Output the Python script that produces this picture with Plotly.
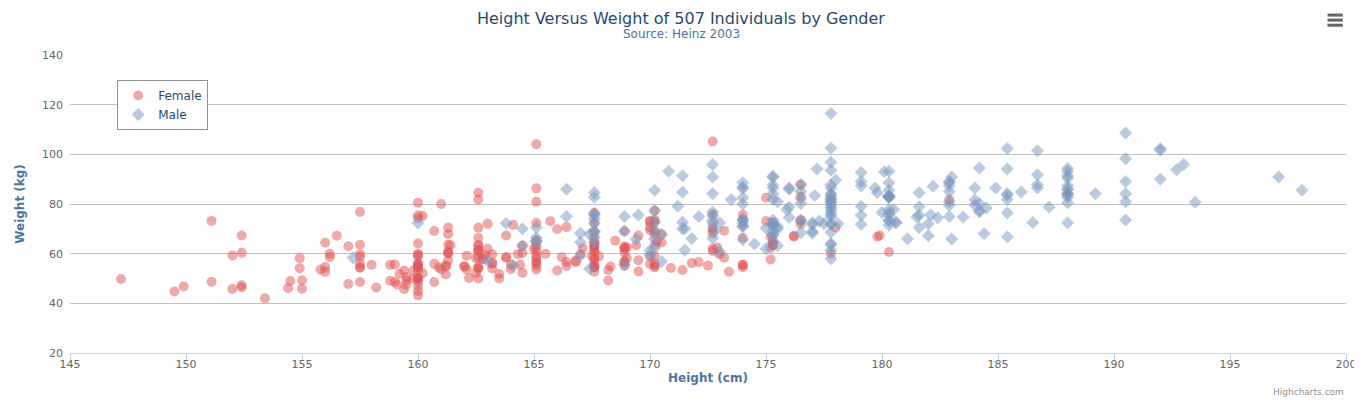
import plotly.graph_objects as go

# Height (cm), weight (kg) — Heinz 2003 body dimensions
female = [
    [161.2, 51.6], [167.5, 59.0], [159.5, 49.2], [157.0, 63.0], [155.8, 53.6],
    [170.0, 59.0], [159.1, 47.6], [166.0, 69.8], [176.2, 66.8], [160.2, 75.2],
    [172.5, 55.2], [170.9, 54.2], [172.9, 62.5], [153.4, 42.0], [160.0, 50.0],
    [147.2, 49.8], [168.2, 49.2], [175.0, 73.2], [157.0, 47.8], [167.6, 68.8],
    [159.5, 50.6], [175.0, 82.5], [166.8, 57.2], [176.5, 87.8], [170.2, 72.8],
    [174.0, 54.5], [173.0, 59.8], [179.9, 67.3], [170.5, 67.8], [160.0, 47.0],
    [154.4, 46.2], [162.0, 55.0], [176.5, 83.0], [160.0, 54.4], [152.0, 45.8],
    [162.1, 53.6], [170.0, 73.2], [160.2, 52.1], [161.3, 67.9], [166.4, 56.6],
    [168.9, 62.3], [163.8, 58.5], [167.6, 54.5], [160.0, 50.2], [161.3, 60.3],
    [167.6, 58.3], [165.1, 56.2], [160.0, 50.2], [170.0, 72.9], [157.5, 59.8],
    [167.6, 61.0], [160.7, 69.1], [163.2, 55.9], [152.4, 46.5], [157.5, 54.3],
    [168.3, 54.8], [180.3, 60.7], [165.5, 60.0], [165.0, 62.0], [164.5, 60.3],
    [156.0, 52.7], [160.0, 74.3], [163.0, 62.0], [165.7, 73.1], [161.0, 80.0],
    [162.0, 54.7], [166.0, 53.2], [174.0, 75.7], [172.7, 61.1], [167.6, 55.7],
    [151.1, 48.7], [164.5, 52.3], [163.5, 50.0], [152.0, 59.3], [169.0, 62.5],
    [164.0, 55.7], [161.2, 54.8], [155.0, 45.9], [170.0, 70.6], [176.2, 67.2],
    [170.0, 69.4], [162.5, 58.2], [170.3, 64.8], [164.1, 71.6], [169.5, 52.8],
    [163.2, 59.8], [154.5, 49.0], [159.8, 50.0], [173.2, 69.2], [170.0, 55.9],
    [161.4, 63.4], [169.0, 58.2], [166.2, 58.6], [159.4, 45.7], [162.5, 52.2],
    [159.0, 48.6], [162.8, 57.8], [159.0, 55.6], [179.8, 66.8], [162.9, 59.4],
    [161.0, 53.6], [151.1, 73.2], [168.2, 53.4], [168.9, 69.0], [173.2, 58.4],
    [171.8, 56.2], [178.0, 70.6], [164.3, 59.8], [163.0, 72.0], [168.5, 65.2],
    [166.8, 56.6], [172.7, 105.2], [163.5, 51.8], [169.4, 63.4], [167.8, 59.0],
    [159.5, 47.6], [167.6, 63.0], [161.2, 55.2], [160.0, 45.0], [163.2, 54.0],
    [162.2, 50.2], [161.3, 60.2], [149.5, 44.8], [157.5, 58.8], [163.2, 56.4],
    [172.7, 62.0], [155.0, 49.2], [156.5, 67.2], [164.0, 53.8], [160.9, 54.4],
    [162.8, 58.0], [167.0, 59.8], [160.0, 54.8], [160.0, 43.2], [168.9, 60.5],
    [158.2, 46.4], [156.0, 64.4], [160.0, 48.8], [167.1, 62.2], [158.0, 55.5],
    [167.6, 57.8], [156.0, 54.6], [162.1, 59.2], [173.4, 52.7], [159.8, 53.2],
    [170.5, 64.5], [159.2, 51.8], [157.5, 56.0], [161.3, 63.6], [162.6, 63.2],
    [160.0, 59.5], [168.9, 56.8], [165.1, 64.1], [162.6, 50.0], [165.1, 72.3],
    [166.4, 55.0], [160.0, 55.9], [152.4, 60.4], [170.2, 69.1], [162.6, 84.5],
    [170.2, 55.9], [158.8, 55.5], [172.7, 69.5], [167.6, 76.4], [162.6, 61.4],
    [167.6, 65.9], [156.2, 58.6], [175.2, 66.8], [172.1, 56.6], [162.6, 58.6],
    [160.0, 55.9], [165.1, 59.1], [182.9, 81.8], [166.4, 70.7], [165.1, 56.8],
    [177.8, 60.0], [165.1, 58.2], [175.3, 72.7], [154.9, 54.1], [158.8, 49.1],
    [172.7, 75.9], [168.9, 55.0], [161.3, 57.3], [167.6, 55.0], [165.1, 65.5],
    [175.3, 65.5], [157.5, 48.6], [163.8, 58.6], [167.6, 63.6], [165.1, 55.2],
    [165.1, 62.7], [168.9, 56.6], [162.6, 53.9], [164.5, 63.2], [176.5, 73.6],
    [168.9, 62.0], [175.3, 63.6], [159.4, 53.2], [160.0, 53.4], [170.2, 55.0],
    [162.6, 70.5], [167.6, 54.5], [162.6, 54.5], [160.7, 55.9], [160.0, 59.0],
    [157.5, 63.6], [162.6, 54.5], [152.4, 47.3], [170.2, 67.7], [165.1, 80.9],
    [172.7, 70.5], [165.1, 60.9], [170.2, 63.6], [170.2, 54.5], [170.2, 59.1],
    [161.3, 70.5], [167.6, 52.7], [167.6, 62.7], [165.1, 86.3], [162.6, 66.4],
    [152.4, 67.3], [168.9, 63.0], [170.2, 73.6], [175.2, 62.3], [175.2, 57.7],
    [160.0, 55.4], [165.1, 104.1], [174.0, 55.5], [170.2, 77.3], [160.0, 80.5],
    [167.6, 64.5], [167.6, 72.3], [167.6, 61.4], [154.9, 58.2], [162.6, 81.8],
    [175.3, 63.6], [171.4, 53.4], [157.5, 54.5], [165.1, 53.6], [160.0, 60.0],
    [174.0, 73.6], [162.6, 61.4], [174.0, 55.5], [162.6, 63.6], [161.3, 60.9],
    [156.2, 60.0], [149.9, 46.8], [169.5, 57.3], [160.0, 64.1], [175.3, 63.6],
    [169.5, 67.3], [160.0, 75.5], [172.7, 68.2], [162.6, 61.4], [157.5, 76.8],
    [176.5, 71.8], [164.4, 55.5], [160.7, 48.6], [174.0, 66.4], [163.8, 67.3],
]

male = [
    [174.0, 65.6], [175.3, 71.8], [193.5, 80.7], [186.5, 72.6], [187.2, 78.8],
    [181.5, 74.8], [184.0, 86.4], [184.5, 78.4], [175.0, 62.0], [184.0, 81.6],
    [180.0, 76.6], [177.8, 83.6], [192.0, 90.0], [176.0, 74.6], [174.0, 71.0],
    [184.0, 79.6], [192.7, 93.8], [171.5, 70.0], [173.0, 72.4], [176.0, 85.9],
    [176.0, 78.8], [180.5, 77.8], [172.7, 66.2], [176.0, 86.4], [173.5, 81.8],
    [178.0, 89.6], [180.3, 82.8], [180.3, 76.4], [164.5, 63.2], [173.0, 60.9],
    [183.5, 74.8], [175.5, 70.0], [188.0, 72.4], [189.2, 84.1], [172.8, 69.1],
    [170.0, 59.5], [182.0, 67.2], [170.0, 61.3], [177.8, 68.6], [184.2, 80.1],
    [186.7, 87.8], [171.4, 84.7], [172.7, 73.4], [175.3, 72.1], [180.3, 82.6],
    [182.9, 88.7], [188.0, 84.1], [177.2, 94.1], [172.1, 74.9], [167.0, 59.1],
    [169.5, 75.6], [174.0, 86.2], [172.7, 75.3], [182.2, 87.1], [164.1, 55.2],
    [163.0, 57.0], [171.5, 61.4], [184.2, 76.8], [174.0, 86.8], [174.0, 72.2],
    [177.0, 71.6], [186.0, 84.8], [167.0, 68.2], [171.8, 66.1], [182.0, 72.0],
    [167.0, 64.6], [177.8, 74.8], [164.5, 70.0], [192.0, 101.6], [175.5, 63.2],
    [171.2, 79.1], [181.6, 78.9], [167.4, 67.7], [181.1, 66.0], [177.0, 68.2],
    [174.5, 63.9], [177.5, 72.0], [170.5, 56.8], [182.4, 74.5], [197.1, 90.9],
    [180.1, 93.0], [175.5, 80.9], [180.6, 72.7], [184.4, 68.0], [175.5, 70.9],
    [180.6, 72.5], [177.0, 72.5], [177.1, 83.4], [181.6, 75.5], [176.5, 73.0],
    [175.0, 70.2], [174.0, 73.4], [165.1, 70.5], [177.0, 68.9], [192.0, 102.3],
    [176.5, 68.4], [169.4, 65.9], [182.1, 75.7], [179.8, 84.5], [175.3, 87.7],
    [184.9, 86.4], [177.3, 73.2], [167.4, 53.9], [178.1, 72.0], [168.9, 55.5],
    [157.2, 58.4], [180.3, 83.2], [170.2, 72.7], [177.8, 64.1], [172.7, 72.3],
    [165.1, 65.0], [186.7, 86.4], [165.1, 65.0], [174.0, 88.6], [175.3, 84.1],
    [185.4, 66.8], [177.8, 75.5], [180.3, 93.2], [180.3, 82.7], [177.8, 58.0],
    [177.8, 79.5], [177.8, 78.6], [177.8, 71.8], [177.8, 116.4], [163.8, 72.2],
    [188.0, 83.6], [198.1, 85.5], [175.3, 90.9], [166.4, 85.9], [190.5, 89.1],
    [166.4, 75.0], [177.8, 77.7], [179.7, 86.4], [172.7, 90.9], [190.5, 73.6],
    [185.4, 76.4], [168.9, 69.1], [167.6, 84.5], [175.3, 64.5], [170.2, 69.1],
    [190.5, 108.6], [177.8, 86.4], [190.5, 80.9], [177.8, 87.7], [184.2, 94.5],
    [176.5, 80.2], [177.8, 72.0], [180.3, 71.4], [171.4, 72.7], [172.7, 84.1],
    [172.7, 76.8], [177.8, 63.6], [177.8, 80.9], [182.9, 80.9], [170.2, 85.5],
    [167.6, 68.6], [175.3, 67.7], [165.1, 66.4], [185.4, 102.3], [181.6, 70.5],
    [172.7, 95.9], [190.5, 84.1], [179.1, 87.3], [175.3, 71.8], [170.2, 65.9],
    [193.0, 95.9], [171.4, 91.4], [177.8, 81.8], [177.8, 96.8], [167.6, 69.1],
    [167.6, 82.7], [180.3, 75.5], [182.9, 79.5], [176.5, 73.6], [186.7, 91.8],
    [188.0, 84.1], [188.0, 85.9], [177.8, 81.8], [174.0, 82.5], [177.8, 80.5],
    [171.4, 70.0], [185.4, 81.8], [185.4, 84.1], [188.0, 90.5], [188.0, 91.4],
    [182.9, 89.1], [176.5, 85.0], [175.3, 69.1], [175.3, 73.6], [188.0, 80.5],
    [188.0, 82.7], [175.3, 86.4], [170.5, 67.7], [179.1, 92.7], [177.8, 93.6],
    [175.3, 70.9], [182.9, 75.0], [170.8, 93.2], [188.0, 93.2], [180.3, 77.7],
    [177.8, 61.4], [185.4, 94.1], [168.9, 75.0], [185.4, 83.6], [180.3, 85.5],
    [174.0, 73.9], [167.6, 66.8], [182.9, 87.3], [160.0, 72.3], [180.3, 88.6],
    [167.6, 75.5], [186.7, 101.4], [175.3, 91.1], [175.3, 67.3], [175.9, 77.7],
    [175.3, 81.8], [179.1, 75.5], [181.6, 84.5], [177.8, 76.6], [182.9, 85.0],
    [177.8, 102.5], [184.2, 77.3], [179.1, 71.8], [176.5, 87.9], [188.0, 94.3],
    [174.0, 70.9], [167.6, 64.5], [170.2, 77.3], [167.6, 72.3], [188.0, 87.3],
    [174.0, 80.0], [176.5, 82.3], [180.3, 73.6], [167.6, 74.1], [188.0, 85.9],
    [180.3, 73.2], [167.6, 76.3], [183.0, 65.9], [183.0, 90.9], [179.1, 89.1],
    [170.2, 62.3], [177.8, 82.7], [179.1, 79.1], [190.5, 98.2], [177.8, 84.1],
    [180.3, 83.2], [180.3, 83.2],
]

font = 'Verdana, DejaVu Sans, sans-serif'

fig = go.Figure()
fig.add_trace(go.Scatter(
    x=[p[0] for p in female], y=[p[1] for p in female],
    mode='markers', name='Female',
    marker=dict(symbol='circle', size=10, color='rgba(223, 83, 83, 0.5)', line=dict(width=0)),
    hovertemplate='%{x} cm, %{y} kg<extra>Female</extra>',
))
fig.add_trace(go.Scatter(
    x=[p[0] for p in male], y=[p[1] for p in male],
    mode='markers', name='Male',
    marker=dict(symbol='diamond', size=10, color='rgba(119, 152, 191, 0.5)', line=dict(width=0)),
    hovertemplate='%{x} cm, %{y} kg<extra>Male</extra>',
))

# export menu icon (three bars)
shapes = []
for yy in (1.134, 1.117, 1.100):
    shapes.append(dict(type='line', xref='paper', yref='paper',
                       x0=0.9855, x1=0.9975, y0=yy, y1=yy,
                       line=dict(color='#666666', width=3)))

# page body has an 8px default margin, so the figure is a bit smaller
fig.update_layout(
    width=1354, height=396,
    margin=dict(l=62, r=16, t=47, b=51),
    paper_bgcolor='white', plot_bgcolor='white',
    font=dict(family=font, size=11, color='#666666'),
    title=dict(text='Height Versus Weight of 507 Individuals by Gender',
               x=0.497, xanchor='center', y=0.975, yanchor='middle',
               font=dict(family=font, size=16, color='#274b6d')),
    showlegend=True,
    legend=dict(x=0.037, y=0.916, xanchor='left', yanchor='top',
                bgcolor='white', bordercolor='#909090', borderwidth=1,
                font=dict(family=font, size=12, color='#274b6d'),
                tracegroupgap=0),
    xaxis=dict(range=[145, 200], dtick=5, tick0=145, automargin=False,
               showgrid=False, zeroline=False,
               showline=True, linecolor='#C0D0E0', linewidth=1,
               ticks='outside', ticklen=6, tickcolor='#C0D0E0',
               ticklabelstandoff=-5,
               tickfont=dict(family=font, size=11, color='#666666'),
               title=dict(text='<b>Height (cm)</b>', standoff=3,
                          font=dict(family=font, size=12, color='#4d759e'))),
    yaxis=dict(range=[20, 140], dtick=20, tick0=20, automargin=False,
               showgrid=True, gridcolor='#C0C0C0', gridwidth=1,
               zeroline=False, showline=False, ticks='',
               ticklabelstandoff=6,
               tickfont=dict(family=font, size=11, color='#666666'),
               title=dict(text='<b>Weight (kg)</b>', standoff=14,
                          font=dict(family=font, size=12, color='#4d759e'))),
    shapes=shapes,
    annotations=[
        dict(text='Source: Heinz 2003', xref='paper', yref='paper',
             x=0.479, y=1.072, xanchor='center', yanchor='middle', showarrow=False,
             font=dict(family=font, size=12, color='#4d759e')),
        dict(text='Highcharts.com', xref='paper', yref='paper',
             x=1.0, y=-0.13, xanchor='right', yanchor='middle', showarrow=False,
             font=dict(family=font, size=9, color='#909090')),
    ],
)

fig.write_html('out.html')
